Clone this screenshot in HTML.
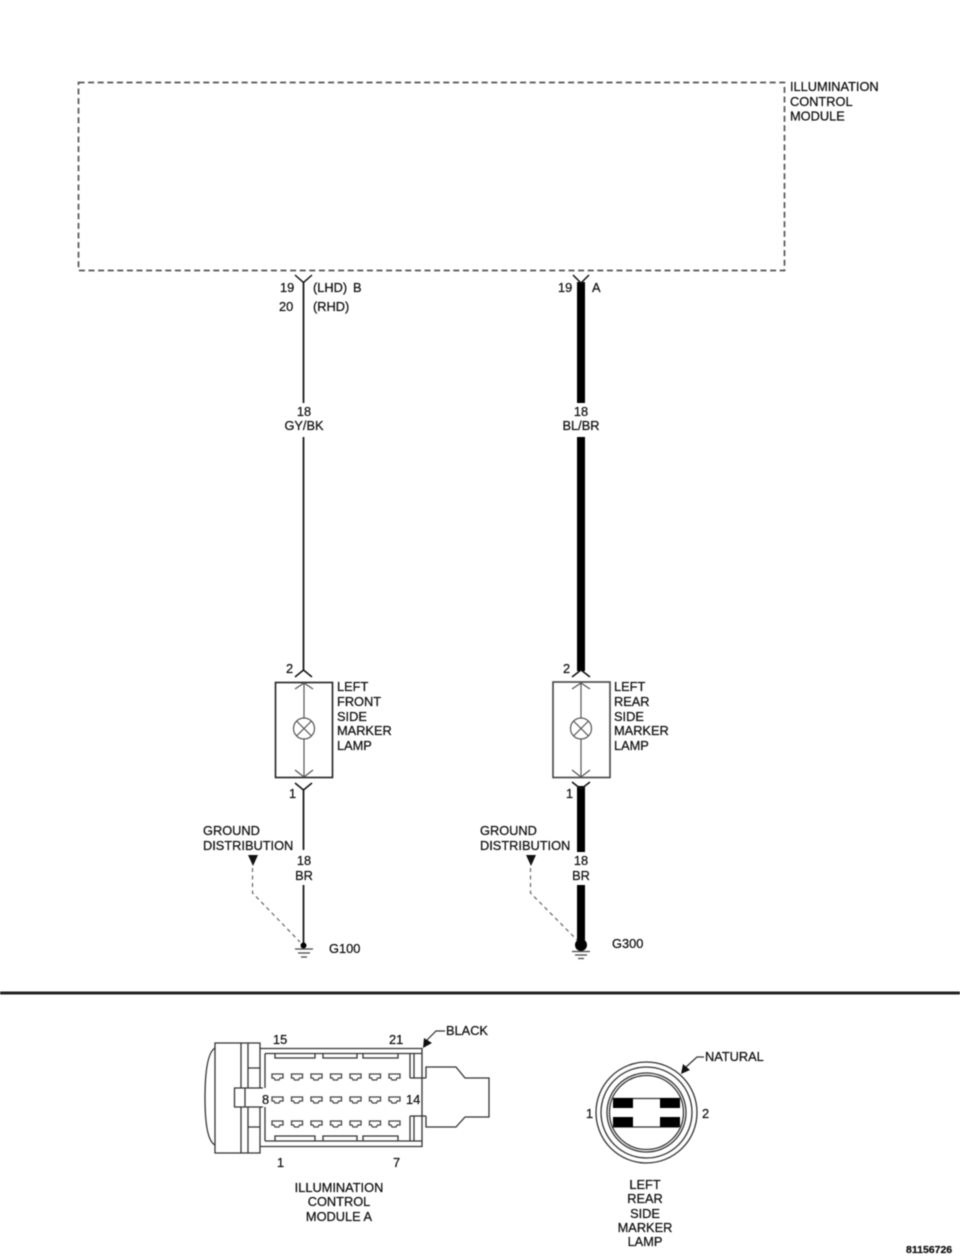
<!DOCTYPE html>
<html><head><meta charset="utf-8"><style>
html,body{margin:0;padding:0;background:#fff}
svg{display:block;filter:blur(.5px)}
text{font-family:"Liberation Sans",sans-serif;font-size:12.8px;fill:#111;stroke:#111;stroke-width:.25px}
.m{text-anchor:middle}
</style></head><body>
<svg width="960" height="1258" viewBox="0 0 960 1258" xmlns="http://www.w3.org/2000/svg">
<rect width="960" height="1258" fill="#fff"/>
<rect x="78.500" y="82.500" width="706" height="188" fill="none" stroke="#555" stroke-width="1.700" stroke-dasharray="6 3.600"/>
<text x="790" y="91">ILLUMINATION</text><text x="790" y="106">CONTROL</text><text x="790" y="120.500">MODULE</text>

<!-- left wire -->
<g fill="none" stroke="#111" stroke-width="1.700">
<path d="M303.500 282V403M303.500 437V671M303.500 789V850M303.500 885V945"/>
<path d="M295 275L303.500 282.500L312 275" stroke-width="1.500"/>
<path d="M295 677L303.500 670L312 677M295 783L303.500 790L312 783" stroke-width="1.500"/>
</g>
<!-- right wire -->
<g fill="#000"><rect x="577" y="282" width="8" height="121"/><rect x="577" y="437" width="8" height="234"/><rect x="577" y="786" width="8" height="66"/><rect x="577" y="885" width="8" height="56"/></g>
<g fill="none" stroke="#111" stroke-width="1.500">
<path d="M573 275L581 283L589 275M572 677L581 670L590 677M572 782L581 789L590 782"/>
</g>

<text x="280" y="292">19</text><text x="279" y="311">20</text>
<text x="313" y="292">(LHD)</text><text x="353" y="292">B</text><text x="313" y="311">(RHD)</text>
<text x="558" y="292">19</text><text x="592" y="292">A</text>
<text x="304" y="416" class="m">18</text><text x="304" y="430" class="m">GY/BK</text>
<text x="581" y="416" class="m">18</text><text x="581" y="430" class="m">BL/BR</text>

<!-- left lamp -->
<rect x="275.500" y="682.500" width="57" height="95" fill="#fff" stroke="#222" stroke-width="1.600"/>
<g fill="none" stroke="#555" stroke-width="1.200">
<path d="M304 683V718M304 739V777M295 689L304 683L313 689M295 770L304 777L313 770"/>
<circle cx="304" cy="728.500" r="10.500"/><path d="M296.500 721L311.500 736M311.500 721L296.500 736"/>
</g>
<text x="286" y="673">2</text><text x="289" y="798">1</text>
<text x="337" y="691">LEFT</text><text x="337" y="706">FRONT</text><text x="337" y="721">SIDE</text><text x="337" y="735">MARKER</text><text x="337" y="750">LAMP</text>
<text x="203" y="835">GROUND</text><text x="203" y="850">DISTRIBUTION</text>
<text x="304" y="865" class="m">18</text><text x="304" y="880" class="m">BR</text>
<path d="M248 855H258L253 866Z" fill="#111"/>
<path d="M252.500 868V893L300 942" fill="none" stroke="#666" stroke-width="1.200" stroke-dasharray="4 3.500"/>
<circle cx="303.500" cy="945.500" r="3" fill="#000"/>
<path d="M295 949H313M298 953H310M301 957H307" stroke="#444" stroke-width="1.200"/>
<text x="329" y="953">G100</text>

<!-- right lamp -->
<rect x="553" y="682" width="57" height="95.500" fill="#fff" stroke="#444" stroke-width="1.600"/>
<g fill="none" stroke="#555" stroke-width="1.200">
<path d="M581 683V718M581 739V777M572 689L581 683L590 689M572 770L581 777L590 770"/>
<circle cx="581" cy="728.500" r="10.500"/><path d="M573.500 721L588.500 736M588.500 721L573.500 736"/>
</g>
<text x="563" y="673">2</text><text x="566" y="798">1</text>
<text x="614" y="691">LEFT</text><text x="614" y="706">REAR</text><text x="614" y="721">SIDE</text><text x="614" y="735">MARKER</text><text x="614" y="750">LAMP</text>
<text x="480" y="835">GROUND</text><text x="480" y="850">DISTRIBUTION</text>
<text x="581" y="865" class="m">18</text><text x="581" y="880" class="m">BR</text>
<path d="M526 855H536L531 866Z" fill="#111"/>
<path d="M530.500 868V893L577 940" fill="none" stroke="#666" stroke-width="1.200" stroke-dasharray="4 3.500"/>
<circle cx="581" cy="945" r="6" fill="#000"/>
<path d="M572 951.500H590M575 955H587M578 958.500H584" stroke="#444" stroke-width="1.200"/>
<text x="612" y="948">G300</text>

<rect x="0" y="991.500" width="960" height="3" fill="#222"/>

<!-- connector A -->
<g fill="none" stroke="#333" stroke-width="1.300">
<path d="M260 1088V1043H215V1153H260V1107M241 1043V1088M241 1107V1153M248 1043V1088M248 1107V1153"/>
<path d="M215 1048Q205 1054 205 1098Q205 1140 215 1145"/>
<path d="M260 1048.500H422V1146.500H260M265 1053.500H422M265 1141H422"/>
<path d="M265 1053.500V1088M265 1107V1141M248 1068H260M248 1127H260"/>
<path d="M234.500 1088H245V1107H234.500ZM245 1088H263M245 1107H263"/>
<path d="M410 1053.500V1078M414 1053.500V1078M410 1078H426M410 1116H426M410 1116V1141M414 1116V1141"/>
<path d="M426 1078V1067H456L465 1078H489V1117H465L456 1127H426V1116"/>
<path d="M275 1053.500V1058H315V1053.500M323 1053.500V1058H357V1053.500M363 1053.500V1058H398V1053.500"/>
<path d="M275 1141V1136H315V1141M323 1141V1136H357V1141M363 1141V1136H398V1141"/>
</g>
<g fill="none" stroke="#444" stroke-width="1.300">
<path d="M272 1074H283V1078H280L279 1080H275L274 1078H272Z"/>
<path d="M291.500 1074H302.500V1078H299.500L298.500 1080H294.500L293.500 1078H291.500Z"/>
<path d="M311 1074H322V1078H319L318 1080H314L313 1078H311Z"/>
<path d="M330.500 1074H341.500V1078H338.500L337.500 1080H333.500L332.500 1078H330.500Z"/>
<path d="M350 1074H361V1078H358L357 1080H353L352 1078H350Z"/>
<path d="M369.500 1074H380.500V1078H377.500L376.500 1080H372.500L371.500 1078H369.500Z"/>
<path d="M389 1074H400V1078H397L396 1080H392L391 1078H389Z"/>
<path d="M272 1097H283V1101H280L279 1103H275L274 1101H272Z"/>
<path d="M291.500 1097H302.500V1101H299.500L298.500 1103H294.500L293.500 1101H291.500Z"/>
<path d="M311 1097H322V1101H319L318 1103H314L313 1101H311Z"/>
<path d="M330.500 1097H341.500V1101H338.500L337.500 1103H333.500L332.500 1101H330.500Z"/>
<path d="M350 1097H361V1101H358L357 1103H353L352 1101H350Z"/>
<path d="M369.500 1097H380.500V1101H377.500L376.500 1103H372.500L371.500 1101H369.500Z"/>
<path d="M389 1097H400V1101H397L396 1103H392L391 1101H389Z"/>
<path d="M272 1121H283V1125H280L279 1127H275L274 1125H272Z"/>
<path d="M291.500 1121H302.500V1125H299.500L298.500 1127H294.500L293.500 1125H291.500Z"/>
<path d="M311 1121H322V1125H319L318 1127H314L313 1125H311Z"/>
<path d="M330.500 1121H341.500V1125H338.500L337.500 1127H333.500L332.500 1125H330.500Z"/>
<path d="M350 1121H361V1125H358L357 1127H353L352 1125H350Z"/>
<path d="M369.500 1121H380.500V1125H377.500L376.500 1127H372.500L371.500 1125H369.500Z"/>
<path d="M389 1121H400V1125H397L396 1127H392L391 1125H389Z"/>
</g>
<text x="273" y="1044">15</text><text x="389" y="1044">21</text>
<text x="262" y="1104">8</text><text x="406" y="1104">14</text>
<text x="277" y="1167">1</text><text x="393" y="1167">7</text>
<path d="M423 1048L424 1038L432 1043Z" fill="#111"/>
<path d="M427 1040L436 1031H445" fill="none" stroke="#333" stroke-width="1.200"/>
<text x="446" y="1035">BLACK</text>
<text x="339" y="1192" class="m">ILLUMINATION</text><text x="339" y="1206" class="m">CONTROL</text><text x="339" y="1221" class="m">MODULE A</text>

<!-- lamp connector -->
<g fill="none" stroke="#333" stroke-width="1.300">
<circle cx="646.500" cy="1112.500" r="50.500"/><circle cx="646.500" cy="1112.500" r="45.500"/><circle cx="646.500" cy="1112.500" r="39.500"/><circle cx="646.500" cy="1112.500" r="37"/>
<path d="M613 1098.500H679M613 1127H679"/>
</g>
<g fill="#000"><rect x="613" y="1098" width="20" height="10"/><rect x="660" y="1098" width="20" height="10"/><rect x="613" y="1117" width="20" height="10"/><rect x="660" y="1117" width="20" height="10"/></g>
<text x="586" y="1118">1</text><text x="702" y="1118">2</text>
<path d="M681 1074L683 1064L690 1070Z" fill="#111"/>
<path d="M686 1067L697 1057H704" fill="none" stroke="#333" stroke-width="1.200"/>
<text x="705" y="1061">NATURAL</text>
<text x="645" y="1189" class="m">LEFT</text><text x="645" y="1203" class="m">REAR</text><text x="645" y="1218" class="m">SIDE</text><text x="645" y="1232" class="m">MARKER</text><text x="645" y="1246" class="m">LAMP</text>
<text x="906" y="1253" style="font-size:10.500px;font-weight:bold">81156726</text>
</svg>
</body></html>
